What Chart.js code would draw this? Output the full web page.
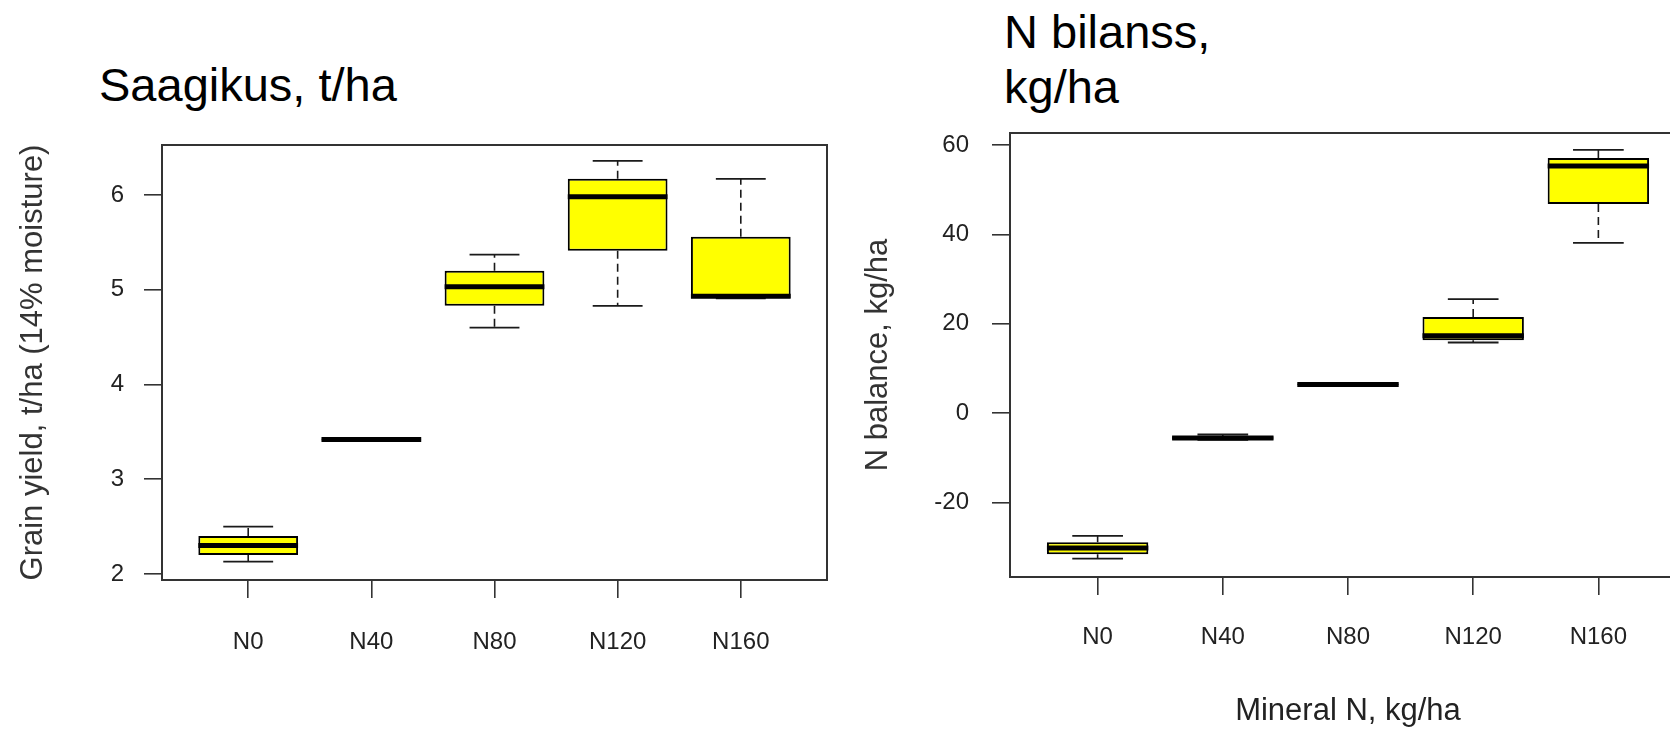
<!DOCTYPE html>
<html><head><meta charset="utf-8">
<script src="https://cdn.jsdelivr.net/npm/chart.js@4/dist/chart.umd.min.js"></script>
<style>
html,body{margin:0;padding:0;background:#fff;overflow:hidden;width:1670px;height:733px;position:relative;}
#c1{position:absolute;left:0;top:0;width:840px;height:733px;}
#c2{position:absolute;left:840px;top:0;width:860px;height:733px;}
.h{position:absolute;font-family:"Liberation Sans",Arial,sans-serif;font-size:47px;line-height:47px;color:#000;white-space:nowrap;}
</style></head><body>
<div class="h" style="left:99px;top:61px">Saagikus, t/ha</div>
<div class="h" style="left:1004px;top:8px">N bilanss,</div>
<div class="h" style="left:1004px;top:63px">kg/ha</div>
<canvas id="c1" width="840" height="733"></canvas>
<canvas id="c2" width="860" height="733"></canvas>
<script>
// ---- data ----
const categories = ['N0', 'N40', 'N80', 'N120', 'N160'];

// Grain yield, t/ha (14% moisture)
const yieldMin    = [2.13, 3.41, 4.60, 4.83, 4.91];
const yieldQ1     = [2.20, 3.41, 4.83, 5.41, 4.91];
const yieldMedian = [2.30, 3.42, 5.03, 5.98, 4.93];
const yieldQ3     = [2.40, 3.43, 5.20, 6.17, 5.56];
const yieldMax    = [2.50, 3.43, 5.37, 6.36, 6.17];
const yieldTicks  = [2, 3, 4, 5, 6];

// N balance, kg/ha
const balMin    = [-32.6, -6.0, 6.2, 15.8, 38.1];
const balQ1     = [-31.6, -6.0, 6.2, 16.3, 46.8];
const balMedian = [-30.2, -5.6, 6.4, 17.3, 55.3];
const balQ3     = [-28.9, -5.2, 6.6, 21.5, 57.1];
const balMax    = [-27.5, -4.8, 6.6, 25.5, 58.9];
const balTicks  = [-20, 0, 20, 40, 60];

// axis ranges
const X_MIN = 0.3, X_MAX = 5.7;
const Y1_MIN = 1.937, Y1_MAX = 6.527;
const Y2_MIN = -36.7, Y2_MAX = 62.7;

const FONT = '"Liberation Sans", Arial, sans-serif';
Chart.defaults.font.family = FONT;

function makeBoxPlugin(mins, meds, maxs, q1s, q3s) {
  return {
    id: 'boxExtras',
    afterDatasetsDraw(chart) {
      const ctx = chart.ctx;
      const y = chart.scales.y;
      const meta = chart.getDatasetMeta(0);
      ctx.save();
      meta.data.forEach((bar, i) => {
        const x = bar.x, w = bar.width;
        const pMin = y.getPixelForValue(mins[i]);
        const pMax = y.getPixelForValue(maxs[i]);
        const pQ1 = y.getPixelForValue(q1s[i]);
        const pQ3 = y.getPixelForValue(q3s[i]);
        const pMed = y.getPixelForValue(meds[i]);
        // whiskers (dashed)
        ctx.strokeStyle = '#1a1a1a';
        ctx.lineWidth = 1.6;
        ctx.setLineDash([8, 5]);
        ctx.beginPath();
        ctx.moveTo(x, pQ3); ctx.lineTo(x, pMax);
        ctx.moveTo(x, pQ1); ctx.lineTo(x, pMin);
        ctx.stroke();
        ctx.setLineDash([]);
        // caps
        ctx.lineWidth = 1.8;
        ctx.beginPath();
        ctx.moveTo(x - w / 4, pMax); ctx.lineTo(x + w / 4, pMax);
        ctx.moveTo(x - w / 4, pMin); ctx.lineTo(x + w / 4, pMin);
        ctx.stroke();
        // median
        ctx.strokeStyle = '#000';
        ctx.lineWidth = 5;
        ctx.beginPath();
        ctx.moveTo(x - w / 2, pMed); ctx.lineTo(x + w / 2, pMed);
        ctx.stroke();
      });
      const a = chart.chartArea;
      ctx.strokeStyle = '#333';
      ctx.lineWidth = 2;
      ctx.strokeRect(a.left, a.top, a.right - a.left, a.bottom - a.top);
      ctx.restore();
    }
  };
}

function makeChart(canvasId, cfg) {
  const gridOpts = { display: true, drawOnChartArea: false, drawTicks: true, tickLength: 18, color: '#333', lineWidth: 1.6, offset: false };
  return new Chart(document.getElementById(canvasId), {
    type: 'bar',
    data: {
      datasets: [{
        data: categories.map((c, i) => ({ x: i + 1, y: [cfg.q1[i], cfg.q3[i]] })),
        backgroundColor: '#ffff00',
        borderColor: '#000',
        borderWidth: 2,
        borderSkipped: false,
        categoryPercentage: 1,
        barPercentage: 0.81
      }]
    },
    options: {
      responsive: false,
      devicePixelRatio: 1,
      animation: false,
      layout: { padding: cfg.padding },
      plugins: { legend: { display: false }, tooltip: { enabled: false } },
      scales: {
        x: {
          type: 'linear', min: X_MIN, max: X_MAX, offset: false,
          afterBuildTicks: s => { s.ticks = categories.map((c, i) => ({ value: i + 1 })); },
          afterFit: s => { s.height = cfg.xHeight; },
          grid: gridOpts,
          border: { display: false },
          ticks: {
            autoSkip: false, maxRotation: 0, minRotation: 0, padding: cfg.xTickPad,
            color: '#222', font: { size: 24 },
            callback: v => categories[Math.round(v) - 1]
          },
          title: cfg.xTitle ? {
            display: true, text: cfg.xTitle, color: '#222', font: { size: 31 },
            padding: { top: 0, bottom: 3.4 }
          } : { display: false }
        },
        y: {
          type: 'linear', min: cfg.yMin, max: cfg.yMax,
          afterBuildTicks: s => { s.ticks = cfg.ticks.map(v => ({ value: v })); },
          afterFit: s => { s.width = cfg.yWidth; },
          grid: gridOpts,
          border: { display: false },
          ticks: { padding: cfg.yTickPad, color: '#222', font: { size: 24 } },
          title: {
            display: true, text: cfg.yTitle, color: '#333', font: { size: 31 },
            padding: { top: cfg.yTitlePad, bottom: 0 }
          }
        }
      }
    },
    plugins: [makeBoxPlugin(cfg.min, cfg.med, cfg.max, cfg.q1, cfg.q3)]
  });
}

makeChart('c1', {
  q1: yieldQ1, q3: yieldQ3, min: yieldMin, max: yieldMax, med: yieldMedian,
  ticks: yieldTicks, yMin: Y1_MIN, yMax: Y1_MAX,
  padding: { left: 0, top: 145, right: 13, bottom: 0 },
  yWidth: 162, xHeight: 153, xTickPad: 29.6, yTickPad: 20, yTitlePad: 14.4,
  yTitle: 'Grain yield, t/ha (14% moisture)', xTitle: null
});

makeChart('c2', {
  q1: balQ1, q3: balQ3, min: balMin, max: balMax, med: balMedian,
  ticks: balTicks, yMin: Y2_MIN, yMax: Y2_MAX,
  padding: { left: 0, top: 133, right: 14, bottom: 0 },
  yWidth: 170, xHeight: 156, xTickPad: 27.6, yTickPad: 23, yTitlePad: 19.4,
  yTitle: 'N balance, kg/ha', xTitle: 'Mineral N, kg/ha'
});
</script>
</body></html>
